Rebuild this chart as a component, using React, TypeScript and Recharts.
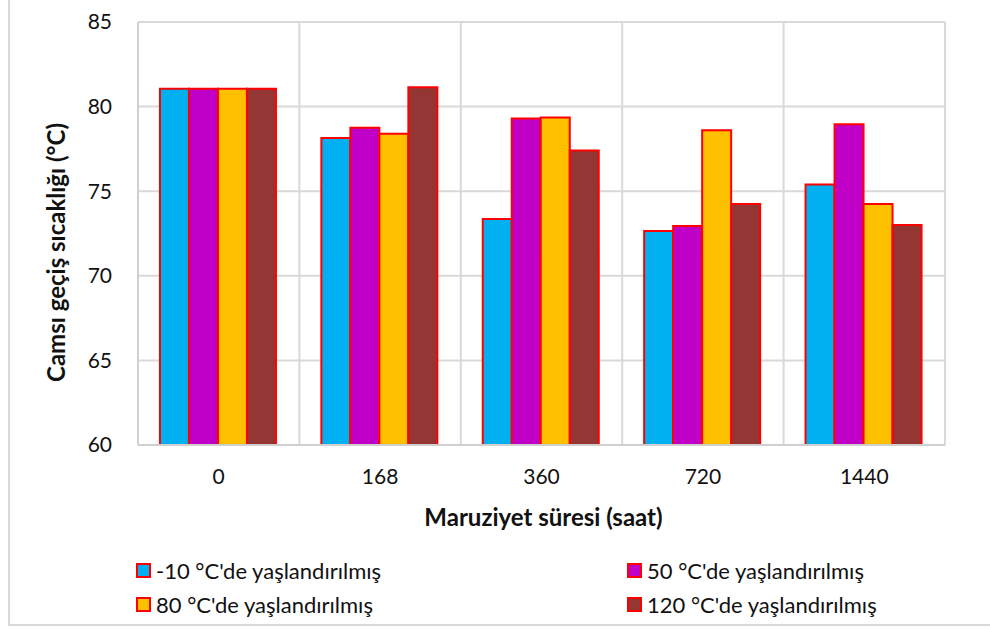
import React from 'react';
import { BarChart, Bar, XAxis, YAxis, CartesianGrid } from 'recharts';

const categories = ['0', '168', '360', '720', '1440'];
const seriesNames = [
  "-10 °C'de yaşlandırılmış",
  "50 °C'de yaşlandırılmış",
  "80 °C'de yaşlandırılmış",
  "120 °C'de yaşlandırılmış",
];
const minus10 = [81.05, 78.15, 73.35, 72.65, 75.4];
const plus50 = [81.05, 78.75, 79.3, 72.95, 78.95];
const plus80 = [81.05, 78.4, 79.35, 78.6, 74.25];
const plus120 = [81.05, 81.15, 77.4, 74.25, 73.0];
const yTicks = [60, 65, 70, 75, 80, 85];
const colors = ['#00B0F0', '#C000C6', '#FFC000', '#943634'];
const keys = ['s1', 's2', 's3', 's4'];

const data = categories.map((c, i) => ({
  cat: c,
  s1: minus10[i],
  s2: plus50[i],
  s3: plus80[i],
  s4: plus120[i],
}));

const FONT = 'Lato, "Open Sans", sans-serif';

const YTitle = (props: any) => {
  const vb = props.viewBox || {};
  const cx = 55;
  const cy = vb.y + vb.height / 2 + 19;
  return (
    <text x={cx} y={cy} transform={`rotate(-90, ${cx}, ${cy})`} textAnchor="middle" dominantBaseline="central" fill="#111" fontSize={24} fontWeight={700} fontFamily={FONT}>
      Camsı geçiş sıcaklığı (°C)
    </text>
  );
};

const XTitle = (props: any) => {
  const vb = props.viewBox || {};
  const cx = vb.x + vb.width / 2 + 2;
  const cy = 516;
  return (
    <text x={cx} y={cy} textAnchor="middle" dominantBaseline="central" fill="#111" fontSize={24} fontWeight={700} fontFamily={FONT}>
      Maruziyet süresi (saat)
    </text>
  );
};

export default function App() {
  const vGen = ({ offset }: any) => {
    const pts: number[] = [];
    for (let i = 1; i <= categories.length; i++) pts.push(offset.left + (i * offset.width) / categories.length);
    return pts;
  };
  return (
    <div style={{ position: 'absolute', left: 0, top: 0, width: 990, height: 630, background: '#fff', overflow: 'hidden' }}>
      <div style={{ position: 'absolute', left: 8, top: -4, width: 990, height: 630, borderLeft: '2px solid #d9d9d9', borderBottom: '2px solid #d9d9d9', boxSizing: 'border-box' }} />
      <div style={{ position: 'absolute', left: 0, top: 0 }}>
        <BarChart
          width={990}
          height={630}
          data={data}
          margin={{ top: 22, right: 45, left: 78, bottom: 155 }}
          barCategoryGap="13.6%"
          barGap={0}
          style={{ fontFamily: FONT }}
        >
          <CartesianGrid stroke="#d9d9d9" strokeWidth={2} verticalCoordinatesGenerator={vGen} />
          <XAxis
            dataKey="cat"
            height={30}
            tick={{ fill: '#111', fontSize: 21, fontFamily: FONT }}
            tickLine={false}
            axisLine={{ stroke: '#d0d0d0', strokeWidth: 2 }}
            tickMargin={18}
            label={<XTitle />}
          />
          <YAxis
            width={60}
            domain={[60, 85]}
            ticks={yTicks}
            allowDataOverflow
            tick={{ fill: '#111', fontSize: 21, fontFamily: FONT }}
            tickLine={false}
            axisLine={{ stroke: '#d0d0d0', strokeWidth: 2 }}
            tickMargin={20}
            label={<YTitle />}
          />
          {keys.map((k, i) => (
            <Bar key={k} dataKey={k} name={seriesNames[i]} fill={colors[i]} stroke="#FF0000" strokeWidth={2} isAnimationActive={false} />
          ))}
        </BarChart>
      </div>
      <div style={{ position: 'absolute', left: 0, top: 556, width: 990, height: 70, fontFamily: FONT, fontSize: 22, color: '#111' }}>
        {seriesNames.map((n, i) => {
          const col = i % 2;
          const row = Math.floor(i / 2);
          return (
            <div key={n} style={{ position: 'absolute', left: col === 0 ? 136 : 627, top: row * 34, height: 28, display: 'flex', alignItems: 'center', whiteSpace: 'nowrap' }}>
              <span style={{ display: 'inline-block', width: 11, height: 11, background: colors[i], border: '2px solid #FF0000', marginRight: 5 }} />
              <span>{n}</span>
            </div>
          );
        })}
      </div>
    </div>
  );
}
